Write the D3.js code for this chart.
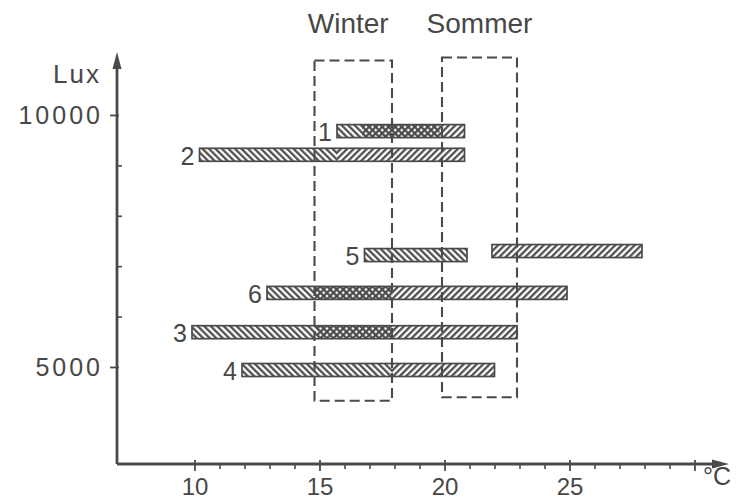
<!DOCTYPE html>
<html><head><meta charset="utf-8">
<script src="https://cdn.jsdelivr.net/npm/d3@7"></script>
<style>
body{margin:0;background:#fff;}
svg{display:block;}
text{font-family:"Liberation Sans",Arial,Helvetica,sans-serif;fill:#474747;}
</style>
</head><body>
<svg id="chart" width="738" height="502"></svg>
<script>
// ---- data ----
const rowLabels = ["1", "2", "5", "", "6", "3", "4"];
const rowLux    = [9680, 9210, 7220, 7300, 6470, 5690, 4940];
const backFrom  = [15.7, 10.2, 16.8, null, 12.9, 9.9, 11.9];   // "\\\" hatched range
const backTo    = [19.8, 15.7, 20.9, null, 17.9, 17.9, 17.9];
const fwdFrom   = [16.7, 15.7, null, 21.9, 14.8, 14.9, 17.9];  // "///" hatched range
const fwdTo     = [20.8, 20.8, null, 27.9, 24.9, 22.9, 22.0];

const seasonNames     = ["Winter", "Sommer"];
const seasonFrom      = [14.8, 19.9];
const seasonTo        = [17.9, 22.9];
const seasonLuxTop    = [11080, 11140];
const seasonLuxBottom = [4330, 4400];

const xMajorTicks = [10, 15, 20, 25, 30];
const xTickLabels = ["10", "15", "20", "25", ""];
const xMinorTicks = [11, 12, 13, 14, 16, 17, 18, 19, 21, 22, 23, 24, 26, 27, 28, 29];
const yMajorTicks = [5000, 10000];
const yTickLabels = ["5000", "10000"];
const yMinorTicks = [6000, 7000, 8000, 9000];
const xAxisTitle = "°C";
const yAxisTitle = "Lux";
const xDomain = [6.9, 31.3];
const yDomain = [3075, 11190];

// ---- setup ----
const svg = d3.select("#chart");
const ink = "#4a4a4a";
const x = d3.scaleLinear().domain(xDomain).range([117, 727]);
const y = d3.scaleLinear().domain(yDomain).range([464, 55]);
const x0 = x(xDomain[0]), y0 = y(yDomain[0]);

const defs = svg.append("defs");
function hatch(id, angle) {
  const p = defs.append("pattern").attr("id", id)
    .attr("patternUnits", "userSpaceOnUse")
    .attr("width", 4.6).attr("height", 10)
    .attr("patternTransform", `rotate(${angle})`);
  p.append("line").attr("x1", 1.2).attr("x2", 1.2).attr("y1", 0).attr("y2", 10)
    .attr("stroke", "#474747").attr("stroke-width", 2.2);
}
hatch("back", -45);
hatch("fwd", 45);

// ---- bars ----
const barH = 13;
const rows = rowLabels.map((lab, i) => ({
  lab, lux: rowLux[i],
  bf: backFrom[i], bt: backTo[i], ff: fwdFrom[i], ft: fwdTo[i]
}));
rows.forEach(r => {
  const lo = d3.min([r.bf, r.ff].filter(v => v != null));
  const hi = d3.max([r.bt, r.ft].filter(v => v != null));
  const yc = y(r.lux);
  const g = svg.append("g");
  g.append("rect").attr("x", x(lo)).attr("y", yc - barH / 2)
    .attr("width", x(hi) - x(lo)).attr("height", barH).attr("fill", "#fff");
  if (r.bf != null) g.append("rect").attr("x", x(r.bf)).attr("y", yc - barH / 2)
    .attr("width", x(r.bt) - x(r.bf)).attr("height", barH).attr("fill", "url(#back)");
  if (r.ff != null) g.append("rect").attr("x", x(r.ff)).attr("y", yc - barH / 2)
    .attr("width", x(r.ft) - x(r.ff)).attr("height", barH).attr("fill", "url(#fwd)");
  g.append("rect").attr("x", x(lo)).attr("y", yc - barH / 2)
    .attr("width", x(hi) - x(lo)).attr("height", barH)
    .attr("fill", "none").attr("stroke", ink).attr("stroke-width", 1.7);
  if (r.lab) g.append("text").attr("x", x(lo) - 5).attr("y", yc + 1)
    .attr("text-anchor", "end").attr("dominant-baseline", "central")
    .attr("font-size", 25).text(r.lab);
});

// ---- season boxes ----
seasonNames.forEach((name, i) => {
  svg.append("rect")
    .attr("x", x(seasonFrom[i])).attr("y", y(seasonLuxTop[i]))
    .attr("width", x(seasonTo[i]) - x(seasonFrom[i]))
    .attr("height", y(seasonLuxBottom[i]) - y(seasonLuxTop[i]))
    .attr("fill", "none").attr("stroke", ink).attr("stroke-width", 2.1)
    .attr("stroke-dasharray", "10,5");
  svg.append("text")
    .attr("x", (x(seasonFrom[i]) + x(seasonTo[i])) / 2 - (i === 0 ? 5 : 0))
    .attr("y", 33).attr("text-anchor", "middle")
    .attr("font-size", 28).text(name);
});

// ---- x axis ----
const gx = svg.append("g").attr("transform", `translate(0,${y0})`);
gx.append("g").call(d3.axisBottom(x).tickValues(xMinorTicks).tickSize(5).tickFormat(""))
  .call(g => g.select(".domain").remove())
  .call(g => g.selectAll("line").attr("stroke", ink).attr("stroke-width", 1.6));
gx.append("g").call(d3.axisBottom(x).tickValues(xMajorTicks).tickSize(7)
    .tickFormat((d, i) => xTickLabels[i]))
  .call(g => g.select(".domain").remove())
  .call(g => g.selectAll("line").attr("y1", -4).attr("stroke", ink).attr("stroke-width", 1.8))
  .call(g => g.selectAll("text").attr("y", 31).attr("dy", 0)
    .attr("font-size", 24).attr("fill", "#474747"));
gx.selectAll("g").attr("font-family", null);
gx.append("line").attr("x1", x0).attr("x2", 716).attr("y1", 0).attr("y2", 0)
  .attr("stroke", ink).attr("stroke-width", 2.8);
gx.append("path").attr("d", "M712,-4.5L729,0L712,4.5Z").attr("fill", ink);
svg.append("text").attr("x", 703).attr("y", 485).attr("font-size", 25).text(xAxisTitle);

// ---- y axis ----
const gy = svg.append("g").attr("transform", `translate(${x0},0)`);
gy.append("g").call(d3.axisRight(y).tickValues(yMinorTicks).tickSize(5).tickFormat(""))
  .call(g => g.select(".domain").remove())
  .call(g => g.selectAll("line").attr("stroke", ink).attr("stroke-width", 1.6));
gy.append("g").call(d3.axisLeft(y).tickValues(yMajorTicks).tickSize(7)
    .tickFormat((d, i) => yTickLabels[i]))
  .call(g => g.select(".domain").remove())
  .call(g => g.selectAll("line").attr("x1", 2).attr("stroke", ink).attr("stroke-width", 1.8))
  .call(g => g.selectAll("text").attr("x", -14).attr("dy", "0.36em")
    .attr("font-size", 25).attr("letter-spacing", 3).attr("fill", "#474747"));
gy.selectAll("g").attr("font-family", null);
gy.append("line").attr("x1", 0).attr("x2", 0).attr("y1", y0).attr("y2", 66)
  .attr("stroke", ink).attr("stroke-width", 2.8);
gy.append("path").attr("d", "M-4.5,69L0,52L4.5,69Z").attr("fill", ink);
svg.append("text").attr("x", 101).attr("y", 83).attr("text-anchor", "end")
  .attr("font-size", 26).attr("letter-spacing", 2).text(yAxisTitle);
</script>
</body></html>
